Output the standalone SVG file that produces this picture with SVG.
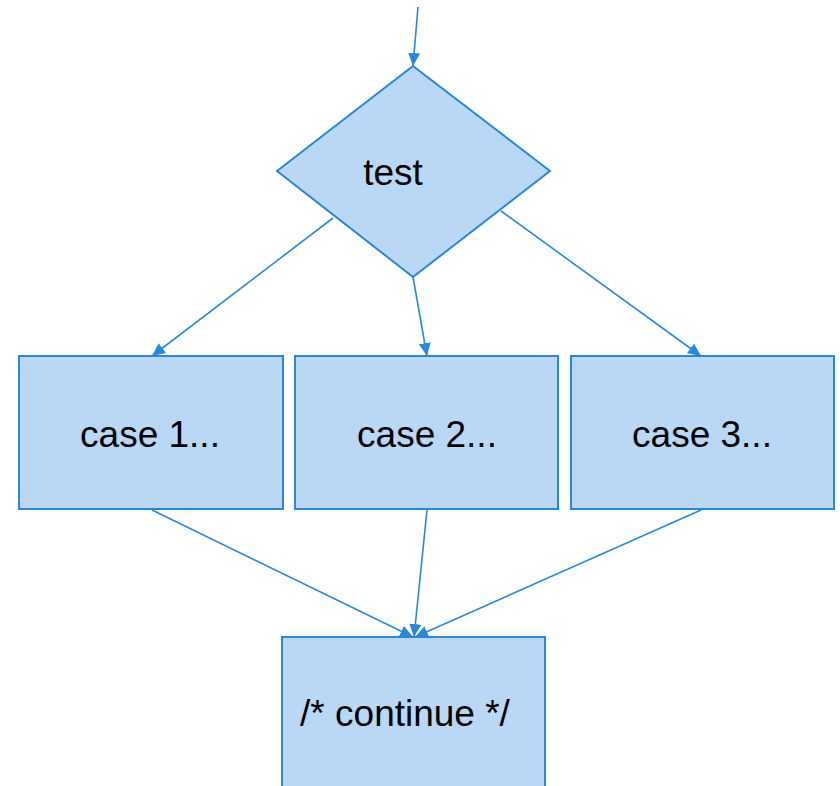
<svg xmlns="http://www.w3.org/2000/svg" width="840" height="786" viewBox="0 0 840 786">
<style>
.shape{fill:#bad7f5;stroke:#2b88d8;stroke-width:2}
.conn{fill:none;stroke:#2b88d8;stroke-width:1.6}
.lbl{font-family:"Liberation Sans",Arial,sans-serif;font-size:37px;fill:#000}
</style>
<defs>
<marker id="ah" markerUnits="userSpaceOnUse" markerWidth="14" markerHeight="12" refX="13" refY="6" orient="auto">
<path d="M0,0 L13,6 L0,12 Z" fill="#2b88d8"/>
</marker>
</defs>
<rect width="840" height="786" fill="#fff"/>
<g id="n-test">
<polygon class="shape" points="413,66 550,171 413,277 277,171"/>
<text class="lbl" x="393" y="185" text-anchor="middle">test</text>
</g>
<g id="n-case1">
<rect class="shape" x="19" y="356" width="264" height="153"/>
<text class="lbl" x="150" y="447" text-anchor="middle">case 1...</text>
</g>
<g id="n-case2">
<rect class="shape" x="295" y="356" width="263" height="153"/>
<text class="lbl" x="427" y="447" text-anchor="middle">case 2...</text>
</g>
<g id="n-case3">
<rect class="shape" x="571" y="356" width="263" height="153"/>
<text class="lbl" x="702" y="447" text-anchor="middle">case 3...</text>
</g>
<g id="n-continue">
<rect class="shape" x="282" y="637" width="263" height="160"/>
<text class="lbl" x="405" y="726" text-anchor="middle">/* continue */</text>
</g>
<g id="connectors">
<line class="conn" x1="418" y1="7" x2="413" y2="66" marker-end="url(#ah)"/>
<line class="conn" x1="333" y1="218" x2="152" y2="356" marker-end="url(#ah)"/>
<line class="conn" x1="413" y1="277" x2="427" y2="356" marker-end="url(#ah)"/>
<line class="conn" x1="501" y1="211" x2="701" y2="356" marker-end="url(#ah)"/>
<line class="conn" x1="152" y1="510" x2="413" y2="637" marker-end="url(#ah)"/>
<line class="conn" x1="427" y1="510" x2="414" y2="637" marker-end="url(#ah)"/>
<line class="conn" x1="701" y1="510" x2="415" y2="637" marker-end="url(#ah)"/>
</g>
</svg>
